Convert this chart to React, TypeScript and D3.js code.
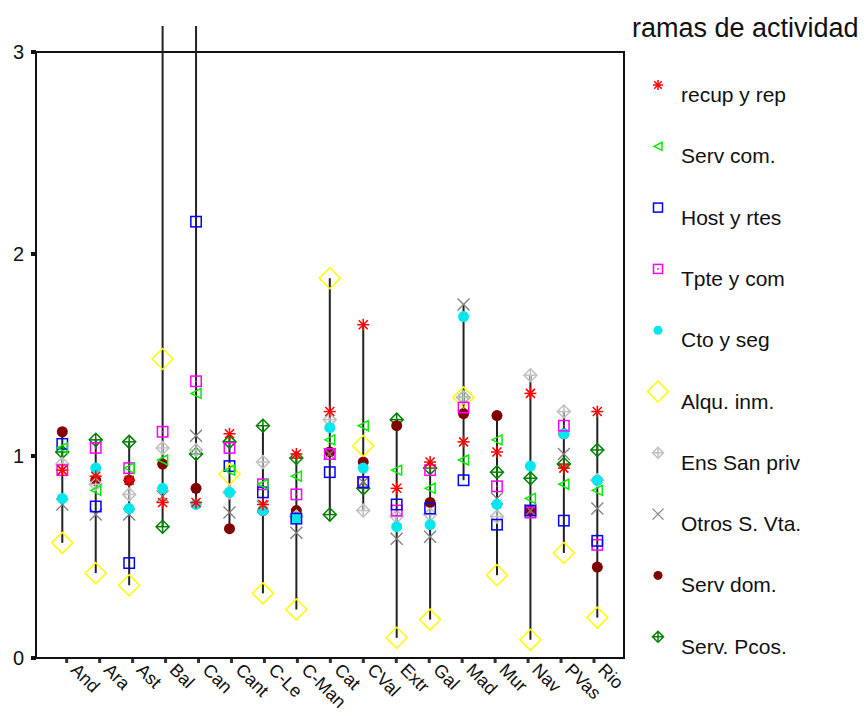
import React from "react";
import * as d3 from "d3";

// comunidades autónomas
const regions = ["And", "Ara", "Ast", "Bal", "Can", "Cant", "C-Le", "C-Man", "Cat", "CVal", "Extr", "Gal", "Mad", "Mur", "Nav", "PVas", "Rio"];
const yTicks = [0, 1, 2, 3];

// one array per rama de actividad (values above 3 are off the chart)
const recupRep = [0.93, 0.9, 0.88, 0.77, 0.77, 1.11, 0.76, 1.01, 1.22, 1.65, 0.84, 0.97, 1.07, 1.02, 1.31, 0.94, 1.22];
const servCom = [1.04, 0.83, 0.94, 0.98, 1.31, 0.93, 0.86, 0.9, 1.08, 1.15, 0.93, 0.84, 0.98, 1.08, 0.79, 0.86, 0.83];
const hostRtes = [1.06, 0.75, 0.47, 4.2, 2.16, 0.95, 0.82, 0.69, 0.92, 0.87, 0.76, 0.74, 0.88, 0.66, 0.73, 0.68, 0.58];
const tpteCom = [0.93, 1.04, 0.94, 1.12, 1.37, 1.04, 0.86, 0.81, 1.01, 0.87, 0.73, 0.93, 1.24, 0.85, 0.72, 1.15, 0.56];
const ctoSeg = [0.79, 0.94, 0.74, 0.84, 0.76, 0.82, 0.73, 0.69, 1.14, 0.94, 0.65, 0.66, 1.69, 0.76, 0.95, 1.11, 0.88];
const alquInm = [0.57, 0.42, 0.36, 1.48, 3.6, 0.91, 0.32, 0.24, 1.88, 1.05, 0.1, 0.19, 1.29, 0.41, 0.09, 0.52, 0.2];
const ensSan = [0.96, 0.86, 0.81, 1.04, 1.03, 0.82, 0.97, 0.7, 1.18, 0.73, 0.7, 0.71, 1.29, 0.7, 1.4, 1.22, 0.88];
const otrosVta = [0.76, 0.71, 0.71, 0.8, 1.1, 0.72, 0.75, 0.62, 1.01, 0.87, 0.59, 0.6, 1.75, 0.79, 0.73, 1.01, 0.74];
const servDom = [1.12, 0.88, 0.88, 0.96, 0.84, 0.64, 0.73, 0.73, 1.02, 0.97, 1.15, 0.77, 1.21, 1.2, 0.73, 1.11, 0.45];
const servPcos = [1.02, 1.08, 1.07, 0.65, 1.01, 1.07, 1.15, 0.99, 0.71, 0.84, 1.18, 0.94, 1.29, 0.92, 0.89, 0.96, 1.03];

const series = [
  { name: "recup y rep", values: recupRep, shape: "star", color: "#ff0000" },
  { name: "Serv com.", values: servCom, shape: "tri", color: "#00ee00" },
  { name: "Host y rtes", values: hostRtes, shape: "square", color: "#0000ff" },
  { name: "Tpte y com", values: tpteCom, shape: "squareDot", color: "#ff00ff" },
  { name: "Cto y seg", values: ctoSeg, shape: "dot", color: "#00e8ee" },
  { name: "Alqu. inm.", values: alquInm, shape: "bigDiamond", color: "#ffff00" },
  { name: "Ens San priv", values: ensSan, shape: "diamondPlus", color: "#c0c0c0" },
  { name: "Otros S. Vta.", values: otrosVta, shape: "cross", color: "#808080" },
  { name: "Serv dom.", values: servDom, shape: "dot", color: "#800000" },
  { name: "Serv. Pcos.", values: servPcos, shape: "diamondPlus", color: "#008000" },
];

const FONT = "'Liberation Sans', Arial, sans-serif";

function Marker({ shape, color, x, y, legend }: { shape: string; color: string; x: number; y: number; legend?: boolean }) {
  const r = legend ? 5 : 6;
  const sw = 1.5;
  if (shape === "star") {
    return (
      <g stroke={color} strokeWidth={sw}>
        <line x1={x - r} y1={y} x2={x + r} y2={y} />
        <line x1={x} y1={y - r} x2={x} y2={y + r} />
        <line x1={x - r * 0.75} y1={y - r * 0.75} x2={x + r * 0.75} y2={y + r * 0.75} />
        <line x1={x - r * 0.75} y1={y + r * 0.75} x2={x + r * 0.75} y2={y - r * 0.75} />
      </g>
    );
  }
  if (shape === "tri") {
    const t = legend ? 4 : 5;
    return <polygon points={`${x - t},${y} ${x + t},${y - t} ${x + t},${y + t}`} fill="none" stroke={color} strokeWidth={sw} />;
  }
  if (shape === "square" || shape === "squareDot") {
    const h = legend ? 4.5 : 5.2;
    return (
      <g>
        <rect x={x - h} y={y - h} width={h * 2} height={h * 2} fill="none" stroke={color} strokeWidth={sw} />
        {shape === "squareDot" && <rect x={x - 0.8} y={y - 0.8} width={1.6} height={1.6} fill={color} />}
      </g>
    );
  }
  if (shape === "dot") {
    return <circle cx={x} cy={y} r={legend ? 4.5 : 5.5} fill={color} />;
  }
  if (shape === "bigDiamond") {
    const d = 10.5;
    return <polygon points={`${x},${y - d} ${x + d},${y} ${x},${y + d} ${x - d},${y}`} fill="none" stroke={color} strokeWidth={sw} />;
  }
  if (shape === "diamondPlus") {
    const d = legend ? 5.5 : 6.5;
    return (
      <g stroke={color} strokeWidth={sw} fill="none">
        <polygon points={`${x},${y - d} ${x + d},${y} ${x},${y + d} ${x - d},${y}`} />
        <line x1={x - d} y1={y} x2={x + d} y2={y} />
        <line x1={x} y1={y - d} x2={x} y2={y + d} />
      </g>
    );
  }
  // cross
  const c = legend ? 5.5 : 6;
  return (
    <g stroke={color} strokeWidth={1.3}>
      <line x1={x - c} y1={y - c} x2={x + c} y2={y + c} />
      <line x1={x - c} y1={y + c} x2={x + c} y2={y - c} />
    </g>
  );
}

export default function App() {
  const width = 867;
  const height = 716;
  const plot = { left: 36, right: 624, top: 52, bottom: 658 };
  const lineTop = 26; // the tall lines run past the frame up to here

  const y = d3.scaleLinear().domain([0, 3]).range([plot.bottom, plot.top]);
  const xTick = d3.scalePoint().domain(regions).range([66.7, 594]);
  const xData = d3.scalePoint().domain(regions).range([62.3, 597.3]);

  const columns = regions.map((reg, i) => {
    const vals = series.map((s) => s.values[i]);
    return { reg, min: d3.min(vals) as number, max: d3.max(vals) as number };
  });

  const legendRow = (i: number) => 102 + i * 61.3;

  return (
    <svg width={width} height={height} style={{ position: "absolute", left: 0, top: 0, background: "#fff" }} fontFamily={FONT}>
      {/* frame */}
      <rect x={plot.left} y={plot.top} width={plot.right - plot.left} height={plot.bottom - plot.top} fill="none" stroke="#111" strokeWidth={2} />

      {/* y axis */}
      {yTicks.map((t) => (
        <g key={t}>
          <rect x={plot.left - 5} y={y(t) - 2} width={5} height={4} fill="#111" />
          <text x={24} y={y(t)} dy="0.36em" textAnchor="end" fontSize={20} fill="#111">
            {t}
          </text>
        </g>
      ))}

      {/* x axis */}
      {regions.map((reg) => (
        <g key={reg}>
          <rect x={(xTick(reg) as number) - 1.5} y={plot.bottom + 1} width={3} height={4} fill="#333" />
          <text
            transform={`translate(${(xTick(reg) as number) + 3},${plot.bottom + 13}) rotate(45)`}
            fontSize={18}
            fill="#111"
          >
            {reg}
          </text>
        </g>
      ))}

      {/* high-low lines */}
      {columns.map((c) => (
        <line
          key={c.reg}
          x1={xData(c.reg)}
          x2={xData(c.reg)}
          y1={y(c.min)}
          y2={Math.max(y(c.max), lineTop)}
          stroke="#222"
          strokeWidth={2}
        />
      ))}

      {/* markers, drawn last series first */}
      {series
        .slice()
        .reverse()
        .map((s) => (
          <g key={s.name}>
            {s.values.map((v, i) =>
              v <= 3 ? <Marker key={i} shape={s.shape} color={s.color} x={xData(regions[i]) as number} y={y(v)} /> : null
            )}
          </g>
        ))}

      {/* legend */}
      <text x={632} y={37} fontSize={27} fill="#111">
        ramas de actividad
      </text>
      {series.map((s, i) => (
        <g key={s.name}>
          <Marker shape={s.shape} color={s.color} x={658} y={legendRow(i) - 17} legend />
          <text x={681} y={legendRow(i)} fontSize={21} fill="#111">
            {s.name}
          </text>
        </g>
      ))}
    </svg>
  );
}
